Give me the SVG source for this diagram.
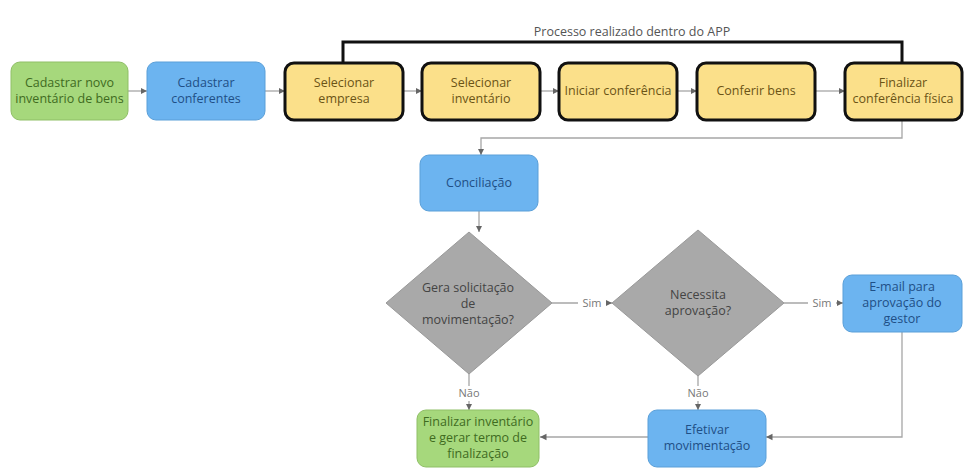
<svg xmlns="http://www.w3.org/2000/svg" width="972" height="476" viewBox="0 0 972 476">
<style>
text{font-family:"Open Sans","Noto Sans",sans-serif;font-size:12.5px;text-anchor:middle}
.g rect{fill:#a6d87c;stroke:#8fbf66}
.g text{fill:#3f6b1f}
.b rect{fill:#6cb4f0;stroke:#5a9fd8}
.b text{fill:#1f4f86}
.y rect{fill:#fbe08a;stroke:#111;stroke-width:3}
.y text{fill:#6b5416}
.d polygon{fill:#a9a9a9;stroke:#999}
.d text{fill:#444}
.c path{fill:none;stroke:#a6a6a6;stroke-width:1.3}
.lbl{fill:#777;font-size:11px}
</style>
<defs><marker id="a" markerWidth="6" markerHeight="6" refX="5" refY="3" orient="auto"><path d="M0,0.5 L5,3 L0,5.5Z" fill="#666"/></marker></defs>
<rect width="972" height="476" fill="#fff"/>
<g class="c">
<path d="M128,91 H147" marker-end="url(#a)"/>
<path d="M265,91 H285" marker-end="url(#a)"/>
<path d="M403,91 H422" marker-end="url(#a)"/>
<path d="M540,91 H559" marker-end="url(#a)"/>
<path d="M677,91 H697" marker-end="url(#a)"/>
<path d="M815,91 H845" marker-end="url(#a)"/>
<path d="M902,121 V138 H481 V155" marker-end="url(#a)"/>
<path d="M479,211 V232" marker-end="url(#a)"/>
<path d="M552,303 H578 M606,303 H612" marker-end="url(#a)"/>
<path d="M784,303 H808 M836,303 H843" marker-end="url(#a)"/>
<path d="M469,374 V386 M469,401 V410" marker-end="url(#a)"/>
<path d="M698,376 V386 M698,401 V410" marker-end="url(#a)"/>
<path d="M902,332 V437 H766" marker-end="url(#a)"/>
<path d="M648,437 H540" marker-end="url(#a)"/>
<path d="M343,63 V42 H902 V63" style="stroke:#111;stroke-width:3"/>
</g>
<text x="632" y="36" style="fill:#555">Processo realizado dentro do APP</text>
<text class="lbl" x="592" y="307">Sim</text>
<text class="lbl" x="822" y="307">Sim</text>
<text class="lbl" x="469" y="397">Não</text>
<text class="lbl" x="698" y="397">Não</text>
<g id="n1" class="g"><rect x="11" y="62" width="117" height="58" rx="9"/><text x="69.5" y="87">Cadastrar novo</text><text x="69.5" y="103">inventário de bens</text></g>
<g id="n2" class="b"><rect x="147" y="62" width="118" height="58" rx="9"/><text x="206" y="87">Cadastrar</text><text x="206" y="103">conferentes</text></g>
<g id="n3" class="y"><rect x="285" y="63" width="118" height="57" rx="9"/><text x="344" y="87">Selecionar</text><text x="344" y="103">empresa</text></g>
<g id="n4" class="y"><rect x="422" y="63" width="118" height="57" rx="9"/><text x="481" y="87">Selecionar</text><text x="481" y="103">inventário</text></g>
<g id="n5" class="y"><rect x="559" y="63" width="118" height="57" rx="9"/><text x="618" y="95">Iniciar conferência</text></g>
<g id="n6" class="y"><rect x="697" y="63" width="118" height="57" rx="9"/><text x="756" y="95">Conferir bens</text></g>
<g id="n7" class="y"><rect x="845" y="63" width="117" height="57" rx="9"/><text x="903" y="87">Finalizar</text><text x="903" y="103">conferência física</text></g>
<g id="n8" class="b"><rect x="420" y="155" width="118" height="56" rx="9"/><text x="479" y="187">Conciliação</text></g>
<g id="d1" class="d"><polygon points="469,232 552,303 469,374 386,303"/><text x="468" y="292">Gera solicitação</text><text x="468" y="308">de</text><text x="468" y="324">movimentação?</text></g>
<g id="d2" class="d"><polygon points="698,230 784,303 698,376 612,303"/><text x="698" y="299">Necessita</text><text x="698" y="315">aprovação?</text></g>
<g id="n9" class="b"><rect x="843" y="275" width="119" height="57" rx="9"/><text x="902" y="291">E-mail para</text><text x="902" y="307">aprovação do</text><text x="902" y="323">gestor</text></g>
<g id="n10" class="g"><rect x="417" y="410" width="122" height="57" rx="9"/><text x="478" y="426">Finalizar inventário</text><text x="478" y="442">e gerar termo de</text><text x="478" y="458">finalização</text></g>
<g id="n11" class="b"><rect x="648" y="410" width="118" height="57" rx="9"/><text x="707" y="434">Efetivar</text><text x="707" y="450">movimentação</text></g>
</svg>
